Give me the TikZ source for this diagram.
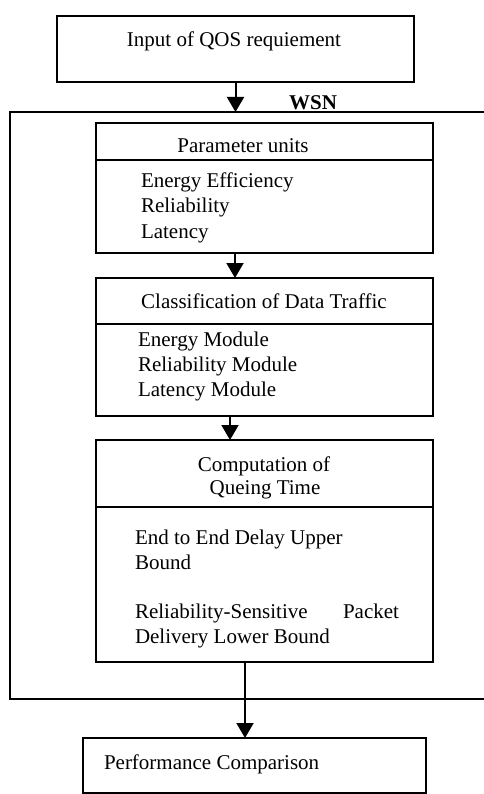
\documentclass[tikz,border=0pt]{standalone}
\usepackage{fontspec}
\setmainfont{Liberation Serif}
\usetikzlibrary{arrows.meta}

\begin{document}
\begin{tikzpicture}[x=1pt,y=-1pt,
  every node/.style={inner sep=0pt,outer sep=0pt,font=\fontsize{21}{25}\selectfont},
  box/.style={draw,line width=1.3pt,rectangle,minimum width=#1},
  frame/.style={line width=1.3pt},
  divider/.style={line width=1.3pt},
  arr/.style={line width=2pt,-{Triangle[length=15pt,width=17pt]}},
  lbl/.style={anchor=base},
  item/.style={anchor=base west}]
\useasboundingbox (0,0) rectangle (483,794);

% QoS input box
\node[box=357pt,minimum height=66pt] (qos) at (235.5,49) {};
\node[lbl] (qost) at (234,47) {Input of QOS requiement};

% WSN frame (open on the right)
\node[minimum width=474pt,minimum height=587pt] (wsn) at (247,405.5) {};
\draw[frame] (wsn.north east) -- (wsn.north west) -- (wsn.south west) -- (wsn.south east);
\node[lbl,font=\fontsize{21}{25}\selectfont\bfseries] (wsnt) at (313,110) {WSN};

% Parameter units
\node[box=337pt,minimum height=130pt] (pu) at (264.5,188) {};
\coordinate (pudiv) at (0,160);
\draw[divider] (pu.west |- pudiv) -- (pu.east |- pudiv);
\node[lbl] (put) at (243,153) {Parameter units};
\node[item] (pu1) at (141,188) {Energy Efficiency};
\node[item] (pu2) at (141,213) {Reliability};
\node[item] (pu3) at (141,238) {Latency};

% Classification of data traffic
\node[box=337pt,minimum height=138pt] (cl) at (264.5,347) {};
\coordinate (cldiv) at (0,324);
\draw[divider] (cl.west |- cldiv) -- (cl.east |- cldiv);
\node[lbl] (clt) at (264,308) {Classification of Data Traffic};
\node[item] (cl1) at (138,346) {Energy Module};
\node[item] (cl2) at (138,371) {Reliability Module};
\node[item] (cl3) at (138,396) {Latency Module};

% Computation of queing time
\node[box=337pt,minimum height=222pt] (cq) at (264.5,551) {};
\coordinate (cqdiv) at (0,507);
\draw[divider] (cq.west |- cqdiv) -- (cq.east |- cqdiv);
\node[lbl] (cqt1) at (264,471) {Computation of};
\node[lbl] (cqt2) at (265,494) {Queing Time};
\node[item] (cq1) at (135,544) {End to End Delay Upper};
\node[item] (cq2) at (135,569) {Bound};
\node[item] (cq3) at (135,618) {\hbox to 264pt{Reliability-Sensitive\hfill Packet}};
\node[item] (cq4) at (135,643) {Delivery Lower Bound};

% Performance comparison
\node[box=343pt,minimum height=55pt] (perf) at (254.5,765.5) {};
\node[item] (perft) at (104,769) {Performance Comparison};

% Connectors
\coordinate (a2) at (235,0);
\coordinate (a3) at (230,0);
\coordinate (a4) at (245,0);
\draw[arr] (qos.south) -- (qos.south |- wsn.north);
\draw[arr] (pu.south -| a2) -- (cl.north -| a2);
\draw[arr] (cl.south -| a3) -- (cq.north -| a3);
\draw[arr] (cq.south -| a4) -- (perf.north -| a4);
\end{tikzpicture}
\end{document}
